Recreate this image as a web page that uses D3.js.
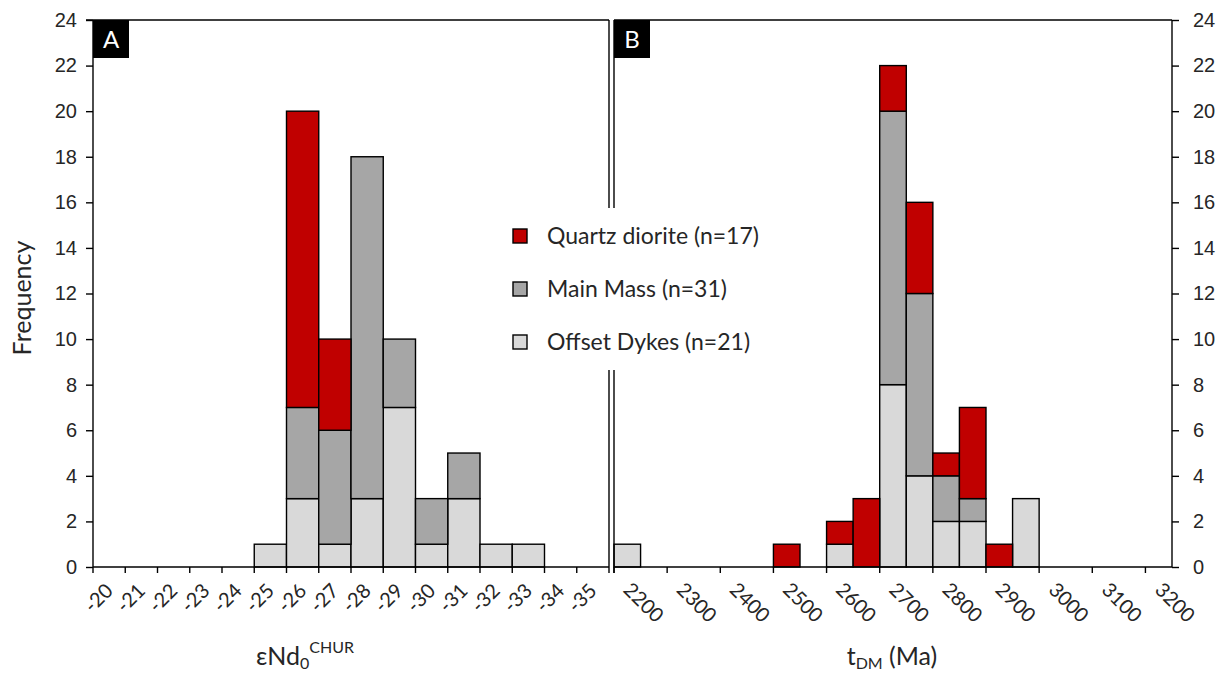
<!DOCTYPE html>
<html>
<head>
<meta charset="utf-8">
<script src="https://cdn.jsdelivr.net/npm/d3@7"></script>
<style>
  body { margin: 0; background: #fff; }
  svg { font-family: Lato, "Open Sans", sans-serif; font-weight: 400; }
</style>
</head>
<body>
<svg id="chart" width="1225" height="673"></svg>
<script>
// Panel A: eNd bins
const catsA = ['-20','-21','-22','-23','-24','-25','-26','-27','-28','-29','-30','-31','-32','-33','-34','-35'];
const offsetA = [0,0,0,0,0,1,3,1,3,7,1,3,1,1,0,0];
const mainA   = [0,0,0,0,0,0,4,5,15,3,2,2,0,0,0,0];
const quartzA = [0,0,0,0,0,0,13,4,0,0,0,0,0,0,0,0];

// Panel B: tDM bins (50 Ma)
const catsB = ['2200','2250','2300','2350','2400','2450','2500','2550','2600','2650','2700',
               '2750','2800','2850','2900','2950','3000','3050','3100','3150','3200'];
const offsetB = [1,0,0,0,0,0,0,0,1,0,8,4,2,2,0,3,0,0,0,0,0];
const mainB   = [0,0,0,0,0,0,0,0,0,0,12,8,2,1,0,0,0,0,0,0,0];
const quartzB = [0,0,0,0,0,0,1,0,1,3,2,4,1,4,1,0,0,0,0,0,0];
const tickLabelsB = ['2200','2300','2400','2500','2600','2700','2800','2900','3000','3100','3200'];

const yTicks = [0,2,4,6,8,10,12,14,16,18,20,22,24];

const series = [
  {key: 'offset', name: 'Offset Dykes (n=21)', color: '#d9d9d9'},
  {key: 'main', name: 'Main Mass (n=31)', color: '#a6a6a6'},
  {key: 'quartz', name: 'Quartz diorite (n=17)', color: '#c00000'}
];

const textColor = '#262626';
const svg = d3.select('#chart');
const plotTop = 20, plotBottom = 567;
const y = d3.scaleLinear().domain([0, 24]).range([plotBottom, plotTop]);

function drawBars(g, cats, off, main, qz, x) {
  const rows = cats.map((c, i) => ({cat: c, offset: off[i], main: main[i], quartz: qz[i]}));
  const stacked = d3.stack().keys(series.map(s => s.key))(rows);
  stacked.forEach((layer, li) => {
    g.selectAll(null)
      .data(layer.filter(d => d[1] > d[0]))
      .enter().append('rect')
      .attr('x', d => x(d.data.cat))
      .attr('width', x.bandwidth())
      .attr('y', d => y(d[1]))
      .attr('height', d => y(d[0]) - y(d[1]))
      .attr('fill', series[li].color)
      .attr('stroke', '#000')
      .attr('stroke-width', 1.4);
  });
}

function line(x1, y1, x2, y2, w) {
  svg.append('line').attr('x1', x1).attr('y1', y1).attr('x2', x2).attr('y2', y2)
    .attr('stroke', '#000').attr('stroke-width', w || 1.4);
}

// ---- Panel A ----
const xA = d3.scaleBand().domain(catsA).range([93, 609]).padding(0);
drawBars(svg.append('g'), catsA, offsetA, mainA, quartzA, xA);

const yAxisA = svg.append('g')
  .attr('transform', `translate(${xA.range()[0]},0)`)
  .call(d3.axisLeft(y).tickValues(yTicks).tickSize(7).tickPadding(9));
yAxisA.selectAll('text').attr('font-size', 20).attr('fill', textColor);
yAxisA.selectAll('line, path').attr('stroke', '#000').attr('stroke-width', 1.4);
yAxisA.select('.domain').attr('d', `M0,${plotTop}V${plotBottom}`);

line(86, plotTop, 609, plotTop);
line(609, plotTop, 609, plotBottom + 6);
line(93, plotBottom, 609, plotBottom);
catsA.forEach(c => line(xA(c), plotBottom, xA(c), plotBottom + 6));

svg.append('g').selectAll('text')
  .data(catsA).enter().append('text')
  .attr('transform', d => `translate(${xA(d) + xA.bandwidth() / 2 + 5},${plotBottom + 25}) rotate(-45)`)
  .attr('text-anchor', 'end')
  .attr('font-size', 20)
  .attr('fill', textColor)
  .text(d => d);

// ---- Panel B ----
const xB = d3.scaleBand().domain(catsB).range([614, 1172]).padding(0);
drawBars(svg.append('g'), catsB, offsetB, mainB, quartzB, xB);

const yAxisB = svg.append('g')
  .attr('transform', `translate(${xB.range()[1]},0)`)
  .call(d3.axisRight(y).tickValues(yTicks).tickSize(7).tickPadding(14));
yAxisB.selectAll('text').attr('font-size', 20).attr('fill', textColor);
yAxisB.selectAll('line, path').attr('stroke', '#000').attr('stroke-width', 1.4);
yAxisB.select('.domain').attr('d', `M0,${plotTop}V${plotBottom}`);

line(614, plotTop, 1172, plotTop);
line(614, plotTop, 614, plotBottom + 6);
line(614, plotBottom, 1172, plotBottom);
catsB.forEach((c, i) => { if (i % 2 === 0) line(xB(c), plotBottom, xB(c), plotBottom + 6); });

svg.append('g').selectAll('text')
  .data(tickLabelsB).enter().append('text')
  .attr('transform', d => `translate(${xB(d) + xB.bandwidth() / 2 - 5},${plotBottom + 24}) rotate(45)`)
  .attr('text-anchor', 'start')
  .attr('font-size', 20)
  .attr('fill', textColor)
  .text(d => d);

// Panel letters
[['A', 93], ['B', 614]].forEach(([t, x0]) => {
  svg.append('rect').attr('x', x0).attr('y', plotTop).attr('width', 36).attr('height', 38).attr('fill', '#000');
  svg.append('text').attr('x', x0 + 18).attr('y', plotTop + 28).attr('text-anchor', 'middle')
    .attr('font-size', 24).attr('fill', '#fff').text(t);
});

// Axis titles
svg.append('text')
  .attr('transform', 'translate(31,298) rotate(-90)')
  .attr('text-anchor', 'middle').attr('font-size', 25).attr('fill', textColor)
  .text('Frequency');

const tA = svg.append('text').attr('x', 305).attr('y', 665).attr('text-anchor', 'middle')
  .attr('font-size', 25).attr('fill', textColor);
tA.append('tspan').text('εNd');
tA.append('tspan').attr('font-size', 16).attr('dy', 4).text('0');
tA.append('tspan').attr('font-size', 16).attr('dy', -16).text('CHUR');

const tB = svg.append('text').attr('x', 892).attr('y', 665).attr('text-anchor', 'middle')
  .attr('font-size', 25).attr('fill', textColor);
tB.append('tspan').text('t');
tB.append('tspan').attr('font-size', 16).attr('dy', 4).text('DM');
tB.append('tspan').attr('dy', -4).text(' (Ma)');

// Legend
const leg = svg.append('g');
leg.append('rect').attr('x', 500).attr('y', 208).attr('width', 290).attr('height', 162).attr('fill', '#fff');
const legItems = series.slice().reverse();
const legY = [236, 289, 342];
legItems.forEach((s, i) => {
  leg.append('rect').attr('x', 513).attr('y', legY[i] - 7).attr('width', 14).attr('height', 14)
    .attr('fill', s.color).attr('stroke', '#000').attr('stroke-width', 1.4);
  leg.append('text').attr('x', 547).attr('y', legY[i] + 8).attr('font-size', 23).attr('fill', textColor)
    .text(s.name);
});
</script>
</body>
</html>
